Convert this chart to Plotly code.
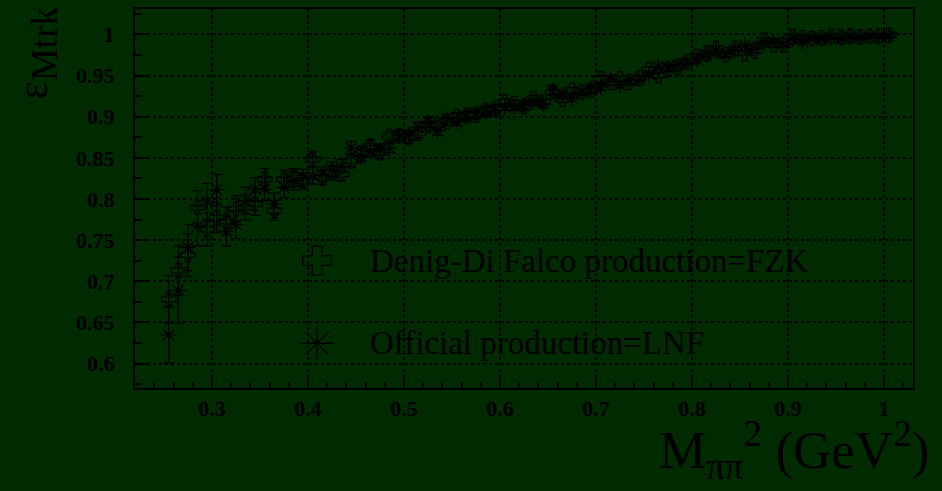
import plotly.graph_objects as go

# Bin centres of M_pipi^2 (GeV^2)
mass_bins = [
    0.255, 0.265, 0.275, 0.285, 0.295, 0.305, 0.315, 0.325, 0.335, 0.345,
    0.355, 0.365, 0.375, 0.385, 0.395, 0.405, 0.415, 0.425, 0.435, 0.445,
    0.455, 0.465, 0.475, 0.485, 0.495, 0.505, 0.515, 0.525, 0.535, 0.545,
    0.555, 0.565, 0.575, 0.585, 0.595, 0.605, 0.615, 0.625, 0.635, 0.645,
    0.655, 0.665, 0.675, 0.685, 0.695, 0.705, 0.715, 0.725, 0.735, 0.745,
    0.755, 0.765, 0.775, 0.785, 0.795, 0.805, 0.815, 0.825, 0.835, 0.845,
    0.855, 0.865, 0.875, 0.885, 0.895, 0.905, 0.915, 0.925, 0.935, 0.945,
    0.955, 0.965, 0.975, 0.985, 0.995, 1.005,
]

# Tracking efficiency, Denig-Di Falco production (FZK)
eff_fzk = [
    0.678, 0.713, 0.732, 0.790, 0.763, 0.777, 0.773, 0.788, 0.790, 0.794,
    0.824, 0.786, 0.824, 0.826, 0.822, 0.848, 0.826, 0.832, 0.830, 0.846,
    0.856, 0.864, 0.856, 0.876, 0.877, 0.874, 0.880, 0.889, 0.890, 0.894,
    0.900, 0.902, 0.902, 0.908, 0.910, 0.918, 0.916, 0.912, 0.922, 0.918,
    0.930, 0.921, 0.932, 0.930, 0.932, 0.946, 0.942, 0.946, 0.942, 0.947,
    0.957, 0.950, 0.958, 0.960, 0.967, 0.973, 0.977, 0.983, 0.975, 0.983,
    0.977, 0.980, 0.993, 0.987, 0.987, 0.997, 0.996, 0.995, 0.996, 0.998,
    0.997, 0.998, 0.997, 0.998, 0.998, 0.999,
]
err_fzk = [
    0.029, 0.030, 0.026, 0.020, 0.020, 0.018, 0.017, 0.016, 0.015, 0.014,
    0.013, 0.012, 0.011, 0.011, 0.010, 0.010, 0.009, 0.008, 0.008, 0.007,
    0.007, 0.007, 0.007, 0.006, 0.006, 0.006, 0.006, 0.006, 0.005, 0.005,
    0.005, 0.005, 0.005, 0.005, 0.005, 0.004, 0.004, 0.004, 0.004, 0.004,
    0.004, 0.004, 0.004, 0.004, 0.004, 0.004, 0.004, 0.003, 0.003, 0.003,
    0.003, 0.003, 0.003, 0.003, 0.003, 0.003, 0.003, 0.003, 0.003, 0.002,
    0.002, 0.002, 0.002, 0.002, 0.002, 0.002, 0.002, 0.002, 0.002, 0.002,
    0.002, 0.002, 0.002, 0.002, 0.002, 0.002,
]

# Tracking efficiency, official production (LNF)
eff_lnf = [
    0.635, 0.689, 0.741, 0.767, 0.797, 0.811, 0.761, 0.769, 0.798, 0.812,
    0.812, 0.794, 0.814, 0.822, 0.826, 0.828, 0.830, 0.836, 0.840, 0.862,
    0.852, 0.858, 0.860, 0.862, 0.877, 0.878, 0.887, 0.894, 0.883, 0.898,
    0.894, 0.900, 0.904, 0.906, 0.908, 0.912, 0.912, 0.914, 0.918, 0.916,
    0.932, 0.926, 0.923, 0.930, 0.934, 0.936, 0.946, 0.938, 0.944, 0.946,
    0.952, 0.961, 0.960, 0.963, 0.966, 0.970, 0.975, 0.980, 0.976, 0.982,
    0.987, 0.983, 0.990, 0.991, 0.989, 0.994, 0.991, 0.995, 0.994, 0.996,
    0.995, 0.997, 0.996, 0.997, 0.997, 0.998,
]
err_lnf = [
    0.034, 0.040, 0.028, 0.024, 0.022, 0.019, 0.018, 0.017, 0.016, 0.014,
    0.014, 0.013, 0.012, 0.011, 0.010, 0.010, 0.009, 0.009, 0.008, 0.008,
    0.007, 0.007, 0.007, 0.006, 0.006, 0.006, 0.006, 0.006, 0.005, 0.005,
    0.005, 0.005, 0.005, 0.005, 0.005, 0.004, 0.004, 0.004, 0.004, 0.004,
    0.004, 0.004, 0.004, 0.004, 0.004, 0.004, 0.004, 0.003, 0.003, 0.003,
    0.003, 0.003, 0.003, 0.003, 0.003, 0.003, 0.003, 0.003, 0.003, 0.002,
    0.002, 0.002, 0.002, 0.002, 0.002, 0.002, 0.002, 0.002, 0.002, 0.002,
    0.002, 0.002, 0.002, 0.002, 0.002, 0.002,
]

legend_labels = ["Denig-Di Falco production=FZK", "Official production=LNF"]

BG = "#002a00"
INK = "black"
SERIF = "Liberation Serif, Times New Roman, serif"

W, H = 942, 491
M_L, M_R, M_T, M_B = 135, 29, 7, 103
PW, PH = W - M_L - M_R, H - M_T - M_B


def px_x(p):
    return (p - M_L) / PW


def px_y(p):
    return (H - M_B - p) / PH


fig = go.Figure()

fig.add_trace(go.Scatter(
    x=mass_bins, y=eff_fzk, mode="markers", name=legend_labels[0],
    marker=dict(symbol="cross-open", size=12, color=INK,
                line=dict(color=INK, width=1.2)),
    error_y=dict(type="data", array=err_fzk, color=INK, thickness=1.2, width=5),
    showlegend=False,
))
fig.add_trace(go.Scatter(
    x=mass_bins, y=eff_lnf, mode="markers", name=legend_labels[1],
    marker=dict(symbol="asterisk-open", size=13, color=INK,
                line=dict(color=INK, width=1.2)),
    error_y=dict(type="data", array=err_lnf, color=INK, thickness=1.2, width=5),
    showlegend=False,
))

# Legend keys drawn on an overlay axis spanning the plot area
fig.add_trace(go.Scatter(
    x=[px_x(317)], y=[px_y(260)], mode="markers", xaxis="x2", yaxis="y2",
    marker=dict(symbol="cross-open", size=24, color=INK,
                line=dict(color=INK, width=1.3)),
    showlegend=False, hoverinfo="skip",
))
fig.add_trace(go.Scatter(
    x=[px_x(317)], y=[px_y(343)], mode="markers", xaxis="x2", yaxis="y2",
    marker=dict(symbol="asterisk-open", size=28, color=INK,
                line=dict(color=INK, width=1.3)),
    showlegend=False, hoverinfo="skip",
))

axis_common = dict(
    showline=True, linecolor=INK, linewidth=2, mirror=True,
    ticks="inside", tickcolor=INK, tickwidth=1.5,
    showgrid=True, gridcolor=INK, gridwidth=1.5, griddash="dot",
    zeroline=False,
    tickfont=dict(family=SERIF, size=22, color=INK, weight="bold"),
)

fig.update_layout(
    width=W, height=H,
    margin=dict(l=M_L, r=M_R, t=M_T, b=M_B, pad=0),
    paper_bgcolor=BG, plot_bgcolor=BG,
    showlegend=False,
    xaxis=dict(
        range=[0.2199, 1.0302], tickvals=[0.3, 0.4, 0.5, 0.6, 0.7, 0.8, 0.9, 1.0],
        ticktext=["0.3", "0.4", "0.5", "0.6", "0.7", "0.8", "0.9", "1"],
        ticklen=12, ticklabelstandoff=0,
        minor=dict(dtick=0.02, tick0=0.2, ticks="inside", ticklen=6,
                   tickcolor=INK, tickwidth=1.5, showgrid=False),
        **axis_common,
    ),
    yaxis=dict(
        range=[0.5703, 1.0309],
        tickvals=[0.6, 0.65, 0.7, 0.75, 0.8, 0.85, 0.9, 0.95, 1.0],
        ticktext=["0.6", "0.65", "0.7", "0.75", "0.8", "0.85", "0.9", "0.95", "1"],
        ticklen=13, ticklabelstandoff=14,
        minor=dict(dtick=0.025, tick0=0.575, ticks="inside", ticklen=7,
                   tickcolor=INK, tickwidth=1.5, showgrid=False),
        **axis_common,
    ),
    xaxis2=dict(overlaying="x", range=[0, 1], visible=False),
    yaxis2=dict(overlaying="y", range=[0, 1], visible=False),
    annotations=[
        dict(text="ε<sub><span style='font-size:37px'>Mtrk</span></sub>",
             xref="paper", yref="paper",
             x=px_x(6), y=px_y(3), xanchor="left", yanchor="top",
             textangle=-90, showarrow=False,
             font=dict(family=SERIF, size=44, color=INK)),
        dict(text="M<sub>ππ</sub><sup>2</sup> (GeV<sup>2</sup>)",
             xref="paper", yref="paper", x=px_x(931), y=px_y(490),
             xanchor="right", yanchor="bottom", showarrow=False,
             font=dict(family=SERIF, size=53, color=INK)),
        dict(text=legend_labels[0], xref="paper", yref="paper",
             x=px_x(368), y=px_y(260), xanchor="left", yanchor="middle",
             showarrow=False, font=dict(family=SERIF, size=33, color=INK)),
        dict(text=legend_labels[1], xref="paper", yref="paper",
             x=px_x(368), y=px_y(343), xanchor="left", yanchor="middle",
             showarrow=False, font=dict(family=SERIF, size=33, color=INK)),
    ],
)

fig.write_html("out.html")
